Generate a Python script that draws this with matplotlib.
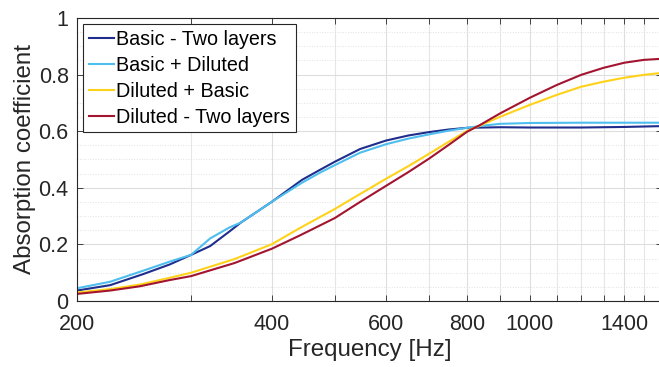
import numpy as np
import matplotlib.pyplot as plt
from matplotlib.ticker import FixedLocator, NullFormatter, MultipleLocator

plt.rcParams['font.family'] = ['Liberation Sans', 'DejaVu Sans']

# Curvas de absorção (frequência em Hz)
f_basic_two = [200, 225, 253, 278, 300, 321, 344, 358, 400, 445, 474, 500, 547, 600, 650, 700, 750, 800,
               900, 1000, 1200, 1400, 1600]
a_basic_two = [0.037, 0.056, 0.095, 0.129, 0.163, 0.194, 0.246, 0.277, 0.351, 0.428, 0.463, 0.492, 0.537,
               0.567, 0.585, 0.597, 0.606, 0.612, 0.614, 0.613, 0.613, 0.615, 0.618]

f_basic_dil = [200, 225, 253, 278, 300, 321, 344, 358, 400, 445, 474, 500, 547, 600, 650, 700, 750, 800,
               850, 900, 1000, 1200, 1400, 1600]
a_basic_dil = [0.045, 0.068, 0.107, 0.139, 0.163, 0.221, 0.26, 0.277, 0.351, 0.418, 0.453, 0.48, 0.524,
               0.554, 0.574, 0.589, 0.602, 0.612, 0.62, 0.626, 0.629, 0.63, 0.63, 0.63]

f_dil_basic = [200, 225, 250, 278, 300, 350, 400, 441, 500, 547, 600, 650, 700, 750, 800, 838, 900, 1000,
               1100, 1200, 1300, 1400, 1500, 1600]
a_dil_basic = [0.03, 0.042, 0.058, 0.082, 0.1, 0.148, 0.201, 0.257, 0.325, 0.378, 0.432, 0.477, 0.521, 0.563,
               0.601, 0.62, 0.651, 0.693, 0.728, 0.757, 0.775, 0.789, 0.799, 0.806]

f_dil_two = [200, 225, 250, 278, 300, 350, 400, 441, 500, 547, 600, 650, 700, 750, 800, 838, 900, 1000,
             1100, 1200, 1300, 1400, 1500, 1600]
a_dil_two = [0.025, 0.037, 0.052, 0.074, 0.088, 0.134, 0.185, 0.231, 0.293, 0.35, 0.407, 0.456, 0.504, 0.552,
             0.598, 0.622, 0.663, 0.718, 0.763, 0.799, 0.824, 0.842, 0.852, 0.856]

labels = ['Basic - Two layers', 'Basic + Diluted', 'Diluted + Basic', 'Diluted - Two layers']
colors = ['#1f2e8c', '#4dbeee', '#ffd21a', '#a2142f']

x_major = [200, 400, 600, 800, 1000, 1400]
x_minor = [300, 500, 700, 900, 1100, 1200, 1300, 1500]

fig = plt.figure(figsize=(6.59, 3.67), dpi=100)
ax = fig.add_axes([0.1168, 0.1798, 0.8878, 0.7712])

series = [(f_basic_two, a_basic_two), (f_basic_dil, a_basic_dil),
          (f_dil_basic, a_dil_basic), (f_dil_two, a_dil_two)]
for (f, a), lab, c in zip(series, labels, colors):
    ax.plot(f, a, color=c, lw=1.5, label=lab)

ax.set_xscale('log')
ax.set_xlim(200, 1600)
ax.set_ylim(0, 1)
ax.xaxis.set_major_locator(FixedLocator(x_major))
ax.xaxis.set_minor_locator(FixedLocator(x_minor))
ax.set_xticklabels([str(v) for v in x_major])
ax.xaxis.set_minor_formatter(NullFormatter())
ax.yaxis.set_major_locator(MultipleLocator(0.2))
ax.yaxis.set_minor_locator(MultipleLocator(0.05))
ax.set_yticks([0, 0.2, 0.4, 0.6, 0.8, 1])
ax.set_yticklabels(['0', '0.2', '0.4', '0.6', '0.8', '1'])

# Grade no estilo MATLAB
ax.grid(True, which='major', axis='both', color='#dedede', lw=0.8)
ax.grid(True, which='minor', axis='x', color='#e6e6e6', lw=0.8)
ax.grid(True, which='minor', axis='y', color='#e0e0e0', lw=0.7, ls=':')
ax.set_axisbelow(True)

axis_col = '#262626'
for s in ax.spines.values():
    s.set_color(axis_col)
    s.set_linewidth(0.8)
ax.tick_params(which='both', direction='in', top=True, right=True, length=4.5,
               color=axis_col, labelcolor=axis_col, labelsize=15.5, width=0.6)
ax.tick_params(axis='y', which='minor', length=0)
ax.tick_params(axis='x', pad=9)
ax.tick_params(axis='y', pad=6)

ax.set_xlabel('Frequency [Hz]', fontsize=17.4, color=axis_col, labelpad=3)
ax.set_ylabel('Absorption coefficient', fontsize=17.4, color=axis_col, labelpad=2)

leg = ax.legend(loc='upper left', bbox_to_anchor=(0.011, 0.979), fontsize=14.2, frameon=True,
                fancybox=False, edgecolor=axis_col, framealpha=1, handlelength=1.25,
                handletextpad=0.12, borderpad=0.3, labelspacing=0.35, borderaxespad=0)
leg.get_frame().set_linewidth(0.8)

plt.savefig('out.png', dpi=100)
